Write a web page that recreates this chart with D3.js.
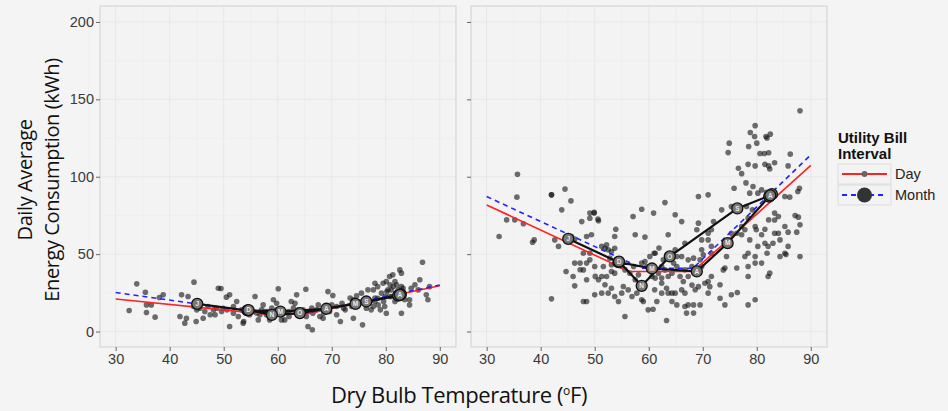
<!DOCTYPE html>
<html>
<head>
<meta charset="utf-8">
<script src="https://cdnjs.cloudflare.com/ajax/libs/d3/7.8.5/d3.min.js"></script>
<style>
  html, body { margin: 0; padding: 0; background: #f4f4f4; }
  svg { display: block; }
</style>
</head>
<body>
<svg id="chart" width="948" height="411"></svg>
<script>
// daily points [temp F, kWh]
var leftDays = [
  [33.9,30.8],[32.5,13.6],[35.5,25.4],[35.7,17.2],[36.6,17.2],[35.7,12.3],[37.3,9.3],[38.1,22],[38.8,23.7],[41.9,9.7],
  [42.2,23.7],[43.1,8.6],[42.8,5.4],[43.4,22.6],[44.5,31.9],[45,14],[44.9,6.5],[46.2,8.6],[47.1,16.2],[47.5,10.8],
  [48.4,10.8],[48.7,15],[49,28],[49.5,27.8],[49.9,15],[50.5,22.2],[51.1,23.7],[51.1,3.2],[51.8,11.8],[52.4,19.4],
  [52.7,9.7],[53.6,5.4],[53.7,6.5],[54.8,10.8],[55.5,12.9],[55.8,22.6],[56.4,7.5],[57,14],[57.3,17.2],[57.9,10.8],
  [58.2,12.9],[58.5,7.5],[59.2,20.5],[59.8,18.3],[60.1,27.6],[60.7,7.5],[61.3,7.5],[62.1,9.7],[62.5,19.4],[63.2,18.3],
  [63.5,23.7],[64.7,14],[65.3,9.7],[65.2,27.3],[65.6,3.2],[66.4,1.1],[66.5,11.8],[67.2,14],[67.8,9.7],[68.4,8.6],
  [69.3,25.8],[70.2,23.3],[69.6,12.9],[70.9,10.8],[71.6,6.5],[71.9,18.3],[72.5,14],[73.7,16.2],[74,8.6],[74.6,23],
  [75.5,24.8],[75.7,4.3],[76.4,15],[77.3,14],[76.7,26.9],[77.7,26.9],[78,19.4],[78.5,21.5],[79.5,31.2],[80.1,32.3],
  [79.8,16.2],[80.1,11.8],[80.7,35.5],[81.3,36.6],[81.7,32.3],[81,26.9],[81.9,24.8],[82.9,29],[82.6,39.8],[82.9,37.7],
  [83.2,28],[83.5,20.5],[82.9,11.8],[84.4,20.5],[84.7,28],[85.4,30.2],[86,26.9],[86.3,33.4],[86.8,44.8],[87.5,23.7],
  [87.8,20.5],[88.1,29],[84.4,17.2],[78.5,29],[78,31.2],[79.2,24.8],[80.4,26.9],[80.7,22.6],[82.3,21.5],
  [80.2,25.9],[81.1,22.6],[81.4,29.1],[82,30.2],[82.3,26.9],[80.8,30.2],[79.9,22.6],[81.7,19.4],[79.6,19.4],[78.6,17.2],
  [77.7,16.2],[77.1,19.4],[78,21.6],[79,14],[76.5,20.5],[75.6,19.4],[74.9,17.2],[74,20.5],[73.4,21.6],[72.2,15.1],
  [70.9,16.2],[70,17.2],[69.1,15.1],[68.5,11.9],[67.5,17.2],[66.3,15.1],[65.7,12.9],[64.4,10.8],[63.8,14],[62.9,15.1],
  [62,12.9],[61,11.9],[59.8,14],[58.9,15.1],[57.7,12.9],[56.7,10.8],[56.1,11.9],[54.3,15.1],[53.3,14],[51.8,16.2],
  [50.6,14],[49.6,12.9],[48.1,14],[46.5,12.9],[45.6,15.1],[44.4,16.2]
]
var rightDays = [
  [88,142.6],[79.7,133],[78.8,128.6],[79.6,126],[81.7,126],[82.5,127.5],[81.9,125],[74.9,121.7],[78.5,119.5],[80,121.7],
  [80.6,115],[81.4,115],[82.2,115.5],[74.7,115.6],[78.4,108],[79.7,107],[81.5,108],[82.2,107],[82.4,105],[76.6,105.5],
  [77.2,102],[86.2,114.6],[85.8,107],[83.3,109],[87.9,92.6],[87.6,90.5],[75.8,92.6],[78,96],[79.3,93.7],[78.7,89.4],
  [80.2,89.4],[80.9,91.5],[81.8,90],[83.3,88.3],[85.2,87.2],[86.1,86.8],[73.5,78.6],[75.3,80.8],[78.1,80.8],[79.2,78.6],
  [77.2,67.8],[78.4,73.2],[79.7,67.8],[81.5,66.1],[82.2,72.1],[85.2,67.8],[85.8,64.2],[87.4,64.2],[84,63.5],[87.7,73.9],
  [83.3,76.5],[83,57],[82.1,55],[81.9,50.6],[84.3,48.5],[85.4,49.8],[88,48.5],[78.4,50.6],[79.7,48.5],[74.1,41],
  [76.3,41],[78.4,35.5],[82.1,35.5],[82.4,37.7],[78.4,17.2],[79.7,20.5],[74.1,17.2],[75.3,23.7],[76.4,25.2],[73.2,21.5],
  [71,32.3],[71.3,29],[71,63.5],[71.6,65.7],[72,71],[68.9,65.7],[69.2,70],[69.2,87.2],[71,88.3],[69.8,52.8],
  [71.6,50.6],[66.7,57],[65.2,48.5],[66.1,71],[64.9,75.4],[63,83.3],[63.6,62.5],[58.7,79],[60.9,76.5],[57.5,62.5],
  [59.3,61],[60.2,48.5],[61,50.6],[61.1,27],[62.4,31.2],[63.3,28],[64.3,24.8],[64.9,24.8],[65.2,17.2],[66.7,16.2],
  [67.3,17.2],[68.3,17.2],[69.5,17.2],[67,11.9],[68.3,11.9],[63.3,7.1],[59.9,14],[60.8,14.4],[55.6,9.7],[54.4,19.4],
  [55,24.8],[52.5,24.8],[53.7,22.6],[51.3,24.8],[50,23.7],[47.9,19.4],[48.5,19.4],[46.3,29.5],[44.7,38.8],[42,21.1],
  [46,35.5],[50,42],[51.3,35.5],[52.2,35.5],[53.1,38.8],[53.7,37.7],[46.3,44.2],[47.3,44.2],[48.5,44.2],[47.9,39.8],
  [47.9,50.6],[49.1,50.6],[48.5,61.4],[49.4,62.5],[47.6,71],[49.1,73.2],[49.1,76.5],[49.9,77.1],[50.7,71.6],[45.7,61.4],
  [46.3,59.7],[42.6,59.2],[43.3,55],[43.9,78.6],[42,88.3],[44.5,92],[45.6,84.4],[38.5,57.7],[38.8,59.2],[36.8,69.6],
  [35.2,72.1],[35.6,86.8],[35.7,101.6],[33.7,72.1],[32.3,61.4],[51.9,53.8],[52.5,52.8],[53.1,51.7],[53.7,53.8],[53.9,66.1],
  [53.7,61.4],[51.3,55],[52.2,56],[55,42],[55.6,39.8],[56.5,37.7],[57.2,42],[57.5,33.4],[58.1,36.6],[58.4,31.2],
  [58.7,44.2],[59.3,45.2],[59.6,42],[60.6,35.5],[61.2,34.5],[61.8,37.7],[62.4,42],[63,39.8],[63.6,35.5],[64.3,37.7],
  [65.2,42],[65.8,35.5],[66.4,32.3],[67.3,35.5],[68,30],[68.6,27],[69.2,29],[67.3,46.3],[68.3,47.4],[69.8,42],
  [69.8,59.2],[71,59.2],[71.6,55],[70.4,31.2],[71.6,35.5],[71,24.8],[73.2,30.2],[73.8,39.8],[74.4,48.5],[75.3,63.5],
  [76.3,63.5],[77.2,62.5],[77.8,65.7],[78.7,59.2],[79.9,65.7],[80.9,62.5],[81.5,57],[80.2,55],[83.3,72],[84,74.3],
  [77.8,48.5],[78.4,42],[79.7,44.2],[80.9,44.2],[83.3,63.5],[84.3,59.2],[87.1,74.9],[88,68.9],[85.8,55],[85.2,50.6],
  [61.2,50.6],[61.9,53.9],[62.7,46.3],[64.6,44.2],[64.9,52.8],[66.1,48.5],[66.7,39.9],[68,42],[68.6,37.7],[69.5,46.3],
  [70.1,49.6],[62.4,24.8],[63.6,24.8],[66.1,26.9],[66.7,24.8],[64.3,19.4],[61.5,19.4],[62.4,34.5],[57.8,24.8],[58.7,20.5],
  [59,19.4],[56.9,22.6],[56.2,26.9],[55.3,29.1],[53.1,28],[51.9,30.2],[50.7,33.4],[50.1,35.6],[48.5,33.4],[47.3,39.9],
  [53.1,43.1],[52.8,47.4],[51.6,42],[49.1,46.3],[57.1,74.3],[42,88.3],[49.9,76.5],[50.6,72.6]
]

// monthly bills, Jan..Dec
var monthLetters = ['J','F','M','A','M','J','J','A','S','O','N','D']
var leftMonths = [[45.1,17.9],[54.4,13.6],[60.5,12.9],[69,14.7],[74.4,17.9],[82.3,23.2],[82.8,24],[82.6,23.7],[76.4,19.4],[64.1,11.9],[58.9,10.8],[54.6,13.8]]
var rightMonths = [[45.1,59.9],[54.4,44.8],[60.6,40.7],[68.9,38.8],[74.6,57.1],[82.3,87.2],[82.8,88.7],[82.5,88],[76.4,79.5],[63.9,48.5],[58.7,29.5],[54.5,45.2]]

// change-point model fits
var leftDayFit = [[30,21],[58,11.2],[65,11.2],[90,29.6]]
var leftMonthFit = [[30,25.2],[59,11],[64,11],[90,30]]
var rightDayFit = [[30,81.8],[56.5,38.8],[68.2,38.8],[90,107.3]]
var rightMonthFit = [[30,87.2],[58.7,40.9],[68.2,40.9],[90,114.1]]

var xTicks = [30,40,50,60,70,80,90]
var yTicks = [0,50,100,150,200]

var svg = d3.select('#chart')
var y = d3.scaleLinear().domain([-10, 210.3]).range([347, 6])
var tickFont = '"Liberation Sans", Arial, sans-serif'

var panels = [
  {x: d3.scaleLinear().domain([27.1, 93]).range([100, 456]), days: leftDays, months: leftMonths, dayFit: leftDayFit, monthFit: leftMonthFit, labels: true},
  {x: d3.scaleLinear().domain([27.1, 93]).range([471, 827]), days: rightDays, months: rightMonths, dayFit: rightDayFit, monthFit: rightMonthFit, labels: false}
]

panels.forEach(function (p) {
  var x = p.x
  var x0 = x.range()[0], x1 = x.range()[1]
  var g = svg.append('g')

  g.append('rect')
    .attr('x', x0).attr('y', 6)
    .attr('width', x1 - x0).attr('height', 341)
    .attr('fill', '#f3f3f3')

  // minor grid
  var minX = d3.range(25, 95, 10), minY = d3.range(25, 210, 50)
  g.selectAll('.mx').data(minX).enter().append('line')
    .attr('x1', function (d) { return x(d) }).attr('x2', function (d) { return x(d) })
    .attr('y1', 6).attr('y2', 347).attr('stroke', '#ececec').attr('stroke-width', 0.6)
  g.selectAll('.my').data(minY).enter().append('line')
    .attr('y1', function (d) { return y(d) }).attr('y2', function (d) { return y(d) })
    .attr('x1', x0).attr('x2', x1).attr('stroke', '#ececec').attr('stroke-width', 0.6)
  // major grid
  g.selectAll('.gx').data(xTicks).enter().append('line')
    .attr('x1', function (d) { return x(d) }).attr('x2', function (d) { return x(d) })
    .attr('y1', 6).attr('y2', 347).attr('stroke', '#e8e8e8').attr('stroke-width', 1)
  g.selectAll('.gy').data(yTicks).enter().append('line')
    .attr('y1', function (d) { return y(d) }).attr('y2', function (d) { return y(d) })
    .attr('x1', x0).attr('x2', x1).attr('stroke', '#e8e8e8').attr('stroke-width', 1)

  // daily points
  g.selectAll('circle.day').data(p.days).enter().append('circle')
    .attr('class', 'day')
    .attr('cx', function (d) { return x(d[0]) })
    .attr('cy', function (d) { return y(d[1]) })
    .attr('r', 2.8)
    .attr('fill', '#111')
    .attr('opacity', 0.6)

  var line = d3.line().x(function (d) { return x(d[0]) }).y(function (d) { return y(d[1]) })

  g.append('path').datum(p.dayFit).attr('d', line)
    .attr('fill', 'none').attr('stroke', '#f22').attr('stroke-width', 1.6)
  g.append('path').datum(p.monthFit).attr('d', line)
    .attr('fill', 'none').attr('stroke', '#22f').attr('stroke-width', 1.6).attr('stroke-dasharray', '5,4')

  g.append('path').datum(p.months).attr('d', line)
    .attr('fill', 'none').attr('stroke', '#111').attr('stroke-width', 2.2).attr('stroke-linejoin', 'round')

  var mg = g.selectAll('g.month').data(p.months).enter().append('g')
    .attr('transform', function (d) { return 'translate(' + x(d[0]) + ',' + y(d[1]) + ')' })
  mg.append('circle').attr('r', 5.5).attr('fill', '#777').attr('stroke', '#111').attr('stroke-width', 1.3)
  mg.append('text').text(function (d, i) { return monthLetters[i] })
    .attr('text-anchor', 'middle').attr('dy', '0.35em')
    .style('font', 'bold 6.5px ' + tickFont).attr('fill', '#eee')

  // border
  g.append('rect')
    .attr('x', x0).attr('y', 6)
    .attr('width', x1 - x0).attr('height', 341)
    .attr('fill', 'none').attr('stroke', '#cfcfcf').attr('stroke-width', 1)

  // axes
  var xa = g.append('g').attr('transform', 'translate(0,347)')
    .call(d3.axisBottom(x).tickValues(xTicks).tickSize(4).tickPadding(3))
  var ya = g.append('g').attr('transform', 'translate(' + x0 + ',0)')
    .call(d3.axisLeft(y).tickValues(yTicks).tickSize(4).tickPadding(2).tickFormat(p.labels ? d3.format('d') : function () { return '' }))
  ;[xa, ya].forEach(function (a) {
    a.select('.domain').remove()
    a.selectAll('line').attr('stroke', '#666')
    a.selectAll('text').attr('fill', '#3a3a3a').style('font-family', tickFont).style('font-size', '14.5px')
  })
})

// axis titles
var titleFont = '"Open Sans", "DejaVu Sans", sans-serif'
var xt = svg.append('text')
  .attr('x', 459).attr('y', 403)
  .attr('text-anchor', 'middle')
  .style('font-family', titleFont).style('font-size', '22px').style('letter-spacing', '-0.4px')
  .attr('fill', '#111')
xt.append('tspan').text('Dry Bulb Temperature (')
xt.append('tspan').text('o').attr('dy', -8).style('font-size', '12px')
xt.append('tspan').text('F)').attr('dy', 8)

var yt = svg.append('text')
  .attr('transform', 'translate(0,180) rotate(-90)')
  .attr('text-anchor', 'middle')
  .style('font-family', titleFont).style('font-size', '20px').style('letter-spacing', '-0.4px')
  .attr('fill', '#111')
yt.append('tspan').attr('x', 0).attr('y', 32).text('Daily Average')
yt.append('tspan').attr('x', 0).attr('y', 59).text('Energy Consumption (kWh)')

// legend
var lg = svg.append('g')
lg.append('text').attr('x', 838).attr('y', 143).text('Utility Bill')
  .style('font', 'bold 15px ' + tickFont).attr('fill', '#111')
lg.append('text').attr('x', 838).attr('y', 159).text('Interval')
  .style('font', 'bold 15px ' + tickFont).attr('fill', '#111')

var legendItems = ['Day', 'Month']
var legendColor = ['#f22', '#22f']
var legendDash = [null, '5,4']
var legendDot = [3, 7.5]
var lk = lg.selectAll('g.key').data(legendItems).enter().append('g')
  .attr('transform', function (d, i) { return 'translate(838,' + (164 + i * 21) + ')' })
lk.append('rect').attr('width', 53).attr('height', 20)
  .attr('fill', '#f3f3f3').attr('stroke', '#dcdcdc').attr('stroke-width', 1)
lk.append('line').attr('x1', 4).attr('x2', 49).attr('y1', 10).attr('y2', 10)
  .attr('stroke', function (d, i) { return legendColor[i] })
  .attr('stroke-width', 1.8)
  .attr('stroke-dasharray', function (d, i) { return legendDash[i] })
lk.append('circle').attr('cx', 26.5).attr('cy', 10)
  .attr('r', function (d, i) { return legendDot[i] })
  .attr('fill', function (d, i) { return i ? '#333' : '#666' })
lk.append('text').attr('x', 57).attr('y', 10).attr('dy', '0.35em')
  .text(function (d) { return d })
  .style('font', '14.5px ' + tickFont).attr('fill', '#222')
</script>
</body>
</html>
